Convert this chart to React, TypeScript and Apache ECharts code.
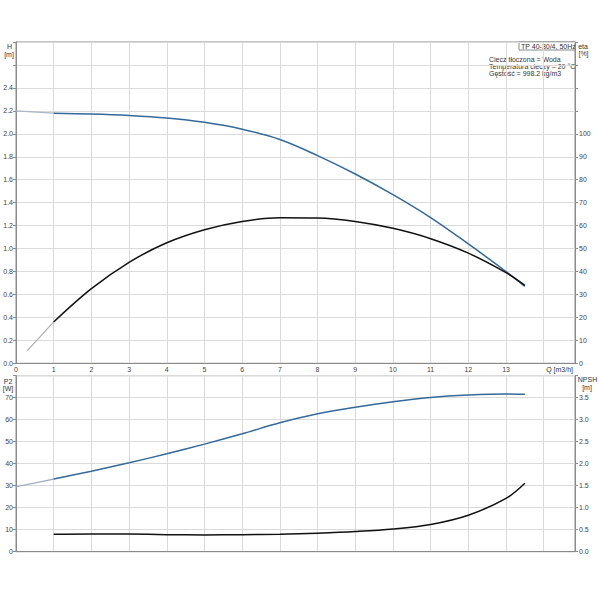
import React, { useEffect, useRef } from "react";
import * as echarts from "echarts";

// Flow values (m3/h) for the measured part of the curves
const qMain = [1, 2, 3, 4, 5, 6, 7, 8, 9, 10, 11, 12, 13, 13.5];
// Head H [m]
const headMain = [2.18, 2.173, 2.16, 2.138, 2.1, 2.04, 1.95, 1.81, 1.65, 1.47, 1.27, 1.04, 0.8, 0.67];
const headExtQ = [0, 1];
const headExt = [2.2, 2.18];
// Efficiency eta [%]
const etaMain = [18, 32.5, 44, 52.5, 58.2, 61.8, 63.4, 63.3, 61.8, 58.8, 54.3, 48, 39.5, 34];
const etaExtQ = [0.3, 1];
const etaExt = [5.5, 18];
// Power P2 [W]
const p2Main = [33, 36.6, 40.4, 44.5, 48.9, 53.6, 58.6, 62.7, 65.7, 68.2, 70.1, 71.2, 71.7, 71.6];
const p2ExtQ = [0, 1];
const p2Ext = [29.5, 33];
// NPSH [m]
const npshMain = [0.395, 0.405, 0.4, 0.388, 0.382, 0.385, 0.398, 0.422, 0.458, 0.515, 0.62, 0.83, 1.21, 1.555];

const infoLines = ["Ciecz tłoczona = Woda", "Temperatura cieczy = 20 °C", "Gęstość = 998.2 kg/m3"];
const titleBox = "TP 40-30/4, 50Hz";

const zip = (xs: number[], ys: number[]) => xs.map((x, i) => [x, ys[i]]);

const FONT = "Liberation Sans";
const LABEL = { color: "#444", fontSize: 7, fontFamily: FONT };
const GRID_LINE = { lineStyle: { color: "#dadada", width: 1 } };
const AXIS_LINE = { lineStyle: { color: "#8a8a8a", width: 1 } };
const TICK = { show: true, length: 3, lineStyle: { color: "#8a8a8a" } };

export default function App() {
  const ref = useRef<HTMLDivElement>(null);
  useEffect(() => {
    if (!ref.current) return;
    const chart = echarts.init(ref.current, null, { renderer: "svg" });
    const xCommon = {
      type: "value",
      min: 0,
      max: 14.83,
      interval: 1,
      splitLine: { show: true, ...GRID_LINE },
      axisLine: { show: true, onZero: false, ...AXIS_LINE },
      axisTick: { show: false },
    };
    const text = (x: number, y: number, t: string, align = "left") => ({
      type: "text",
      x,
      y,
      style: { text: t, fill: "#333", font: `7px "${FONT}"`, textAlign: align, textVerticalAlign: "middle" },
    });
    const curve = (xi: number, yi: number, xs: number[], ys: number[], color: string) => ({
      type: "line",
      xAxisIndex: xi,
      yAxisIndex: yi,
      data: zip(xs, ys),
      smooth: 0.35,
      showSymbol: false,
      lineStyle: { color, width: 1.5 },
    });
    const ext = (xi: number, yi: number, xs: number[], ys: number[], color: string) => ({
      type: "line",
      xAxisIndex: xi,
      yAxisIndex: yi,
      data: zip(xs, ys),
      showSymbol: false,
      lineStyle: { color, width: 1.1 },
    });
    chart.setOption({
      animation: false,
      grid: [
        { left: 16, right: 25, top: 42, height: 321.3, show: true, borderColor: "#8a8a8a", borderWidth: 1 },
        { left: 16, right: 25, top: 375.7, height: 176, show: true, borderColor: "#8a8a8a", borderWidth: 1 },
      ],
      xAxis: [
        {
          ...xCommon,
          gridIndex: 0,
          axisLabel: {
            ...LABEL,
            margin: 3,
            showMaxLabel: false,
            formatter: (v: number) => (v <= 13 && Number.isInteger(v) ? String(v) : ""),
          },
        },
        { ...xCommon, gridIndex: 1, axisLabel: { show: false } },
      ],
      yAxis: [
        {
          type: "value",
          gridIndex: 0,
          min: 0,
          max: 2.8,
          interval: 0.2,
          position: "left",
          splitLine: { show: true, ...GRID_LINE },
          axisLine: { show: true, ...AXIS_LINE },
          axisTick: TICK,
          axisLabel: { ...LABEL, margin: 3, formatter: (v: number) => (v > 2.41 ? "" : v.toFixed(1)) },
        },
        {
          type: "value",
          gridIndex: 0,
          min: 0,
          max: 140,
          interval: 10,
          position: "right",
          splitLine: { show: false },
          axisLine: { show: true, ...AXIS_LINE },
          axisTick: TICK,
          axisLabel: { ...LABEL, margin: 4, formatter: (v: number) => (v > 100 ? "" : String(v)) },
        },
        {
          type: "value",
          gridIndex: 1,
          min: 0,
          max: 80,
          interval: 10,
          position: "left",
          splitLine: { show: true, ...GRID_LINE },
          axisLine: { show: true, ...AXIS_LINE },
          axisTick: TICK,
          axisLabel: { ...LABEL, margin: 3, formatter: (v: number) => (v > 70 ? "" : String(v)) },
        },
        {
          type: "value",
          gridIndex: 1,
          min: 0,
          max: 4,
          interval: 0.5,
          position: "right",
          splitLine: { show: false },
          axisLine: { show: true, ...AXIS_LINE },
          axisTick: TICK,
          axisLabel: { ...LABEL, margin: 4, formatter: (v: number) => (v > 3.6 ? "" : v.toFixed(1)) },
        },
      ],
      series: [
        ext(0, 0, headExtQ, headExt, "#a9b6c6"),
        ext(0, 1, etaExtQ, etaExt, "#aaaaaa"),
        curve(0, 0, qMain, headMain, "#34699c"),
        curve(0, 1, qMain, etaMain, "#111111"),
        ext(1, 2, p2ExtQ, p2Ext, "#97a6b8"),
        curve(1, 2, qMain, p2Main, "#34699c"),
        curve(1, 3, qMain, npshMain, "#111111"),
      ],
      graphic: [
        text(9.5, 46, "H", "center"),
        text(9, 54, "[m]", "center"),
        text(583, 46, "eta", "center"),
        text(583.5, 53, "[%]", "center"),
        text(8, 381, "P2", "center"),
        text(8, 388, "[W]", "center"),
        text(587.5, 379.5, "NPSH", "center"),
        text(587, 387, "[m]", "center"),
        text(573, 369.8, "Q [m3/h]", "right"),
        {
          type: "rect",
          shape: { x: 519, y: 42, width: 56, height: 8 },
          style: { fill: "#fff", stroke: "#8a8a8a", lineWidth: 1 },
        },
        text(521, 46.3, titleBox),
        text(489, 59, infoLines[0]),
        text(489, 66.5, infoLines[1]),
        text(489, 73.7, infoLines[2]),
      ],
    });
    return () => chart.dispose();
  }, []);
  return <div ref={ref} style={{ position: "absolute", left: 0, top: 0, width: 600, height: 600, background: "#fff" }} />;
}
